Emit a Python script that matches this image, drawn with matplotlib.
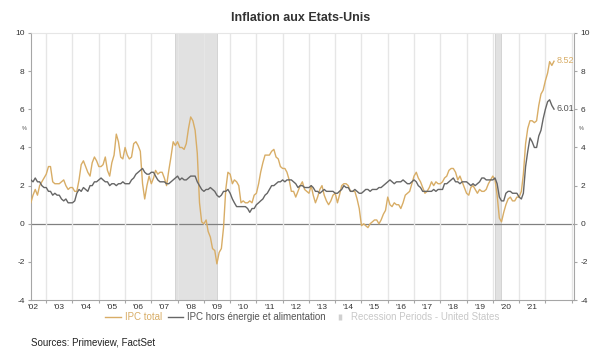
"""Inflation aux Etats-Unis: IPC total vs IPC hors energie et alimentation."""
import numpy as np
import pandas as pd
import matplotlib
matplotlib.use('Agg')
import matplotlib.pyplot as plt
import matplotlib.dates as mdates
from matplotlib.lines import Line2D

plt.rcParams['font.family'] = ['Liberation Sans', 'DejaVu Sans']

START = '2002-06-01'

# IPC total, glissement annuel (%), mensuel, juin 2002 -> mai 2022
cpi_total = [
    1.1, 1.5, 1.8, 1.5, 2.0, 2.2, 2.4,
    2.6, 3.0, 3.0, 2.2, 2.1, 2.1, 2.1, 2.2, 2.3, 2.0, 1.8, 1.9,
    1.9, 1.7, 1.7, 2.3, 3.1, 3.3, 3.0, 2.7, 2.5, 3.2, 3.5, 3.3,
    3.0, 3.0, 3.1, 3.5, 2.8, 2.5, 3.2, 3.6, 4.7, 4.3, 3.5, 3.4,
    4.0, 3.6, 3.4, 3.5, 4.2, 4.3, 4.1, 3.8, 2.1, 1.3, 2.0, 2.5,
    2.1, 2.4, 2.8, 2.6, 2.7, 2.7, 2.4, 2.0, 2.8, 3.5, 4.3, 4.1,
    4.3, 4.0, 4.0, 3.9, 4.2, 5.0, 5.6, 5.4, 4.9, 3.7, 1.1, 0.1,
    0.0, 0.2, -0.4, -0.7, -1.3, -1.4, -2.1, -1.5, -1.3, -0.2, 1.8, 2.7,
    2.6, 2.1, 2.3, 2.2, 2.0, 1.1, 1.2, 1.1, 1.1, 1.2, 1.1, 1.5,
    1.6, 2.1, 2.7, 3.2, 3.6, 3.6, 3.6, 3.8, 3.9, 3.5, 3.4, 3.0,
    2.9, 2.9, 2.7, 2.3, 1.7, 1.7, 1.4, 1.7, 2.0, 2.2, 1.8, 1.7,
    1.6, 2.0, 1.5, 1.1, 1.4, 1.8, 2.0, 1.5, 1.2, 1.0, 1.2, 1.5,
    1.6, 1.1, 1.5, 2.0, 2.1, 2.1, 2.0, 1.7, 1.7, 1.7, 1.3, 0.8,
    -0.1, 0.0, -0.1, -0.2, 0.0, 0.1, 0.2, 0.2, 0.0, 0.2, 0.5, 0.7,
    1.4, 1.0, 0.9, 1.1, 1.0, 1.0, 0.8, 1.1, 1.5, 1.6, 1.7, 2.1,
    2.5, 2.7, 2.4, 2.2, 1.9, 1.6, 1.7, 1.9, 2.2, 2.0, 2.2, 2.1,
    2.1, 2.2, 2.4, 2.5, 2.8, 2.9, 2.9, 2.7, 2.3, 2.5, 2.2, 1.9,
    1.6, 1.5, 1.9, 2.0, 1.8, 1.6, 1.8, 1.7, 1.7, 1.8, 2.1, 2.3,
    2.5, 2.3, 1.5, 0.3, 0.1, 0.6, 1.0, 1.3, 1.4, 1.2, 1.2, 1.4,
    1.4, 1.7, 2.6, 4.2, 5.0, 5.4, 5.4, 5.3, 5.4, 6.2, 6.8, 7.0,
    7.5, 7.9, 8.5, 8.3, 8.52,
]

# IPC hors energie et alimentation
cpi_core = [
    2.3, 2.2, 2.4, 2.2, 2.2, 2.0, 1.9,
    1.9, 1.7, 1.7, 1.5, 1.6, 1.5, 1.5, 1.3, 1.2, 1.3, 1.1, 1.1,
    1.1, 1.2, 1.6, 1.8, 1.7, 1.9, 1.8, 1.7, 2.0, 2.0, 2.2, 2.2,
    2.3, 2.4, 2.3, 2.2, 2.2, 2.0, 2.1, 2.1, 2.0, 2.1, 2.1, 2.2,
    2.1, 2.1, 2.1, 2.3, 2.4, 2.6, 2.7, 2.8, 2.9, 2.7, 2.6, 2.6,
    2.7, 2.7, 2.5, 2.3, 2.2, 2.2, 2.2, 2.1, 2.1, 2.2, 2.3, 2.4,
    2.5, 2.3, 2.4, 2.3, 2.3, 2.4, 2.5, 2.5, 2.5, 2.2, 2.0, 1.8,
    1.7, 1.8, 1.8, 1.9, 1.8, 1.7, 1.5, 1.4, 1.5, 1.7, 1.7, 1.8,
    1.6, 1.3, 1.1, 0.9, 0.9, 0.9, 0.9, 0.9, 0.8, 0.6, 0.8, 0.8,
    1.0, 1.1, 1.2, 1.3, 1.5, 1.6, 1.8, 2.0, 2.0, 2.1, 2.2, 2.2,
    2.3, 2.2, 2.3, 2.3, 2.3, 2.2, 2.1, 1.9, 2.0, 2.0, 1.9, 1.9,
    1.9, 2.0, 1.9, 1.7, 1.7, 1.6, 1.7, 1.8, 1.7, 1.7, 1.7, 1.7,
    1.6, 1.6, 1.7, 1.8, 2.0, 1.9, 1.9, 1.7, 1.7, 1.8, 1.7, 1.6,
    1.6, 1.7, 1.8, 1.8, 1.7, 1.8, 1.8, 1.8, 1.9, 1.9, 2.0, 2.1,
    2.2, 2.3, 2.2, 2.1, 2.2, 2.2, 2.2, 2.3, 2.2, 2.1, 2.1, 2.2,
    2.3, 2.2, 2.0, 1.9, 1.7, 1.7, 1.7, 1.7, 1.7, 1.8, 1.7, 1.8,
    1.8, 1.8, 2.1, 2.1, 2.2, 2.3, 2.4, 2.2, 2.2, 2.1, 2.2, 2.2,
    2.2, 2.1, 2.0, 2.1, 2.0, 2.1, 2.2, 2.4, 2.4, 2.3, 2.3, 2.3,
    2.3, 2.4, 2.1, 1.4, 1.2, 1.2, 1.6, 1.7, 1.7, 1.6, 1.6, 1.6,
    1.4, 1.3, 1.6, 3.0, 3.8, 4.5, 4.3, 4.0, 4.0, 4.6, 4.9, 5.5,
    6.0, 6.4, 6.5, 6.2, 6.01,
]

recessions = [('2007-12-01', '2009-06-30'), ('2020-02-01', '2020-04-30')]
years = list(range(2002, 2022))
y_ticks = [-4, -2, 0, 2, 4, 6, 8, 10]

GOLD = '#d8ad66'
GREY = '#666666'
SHADE = '#e1e1e1'

dates = pd.date_range(START, periods=len(cpi_total), freq='MS')

fig = plt.figure(figsize=(6.05, 3.51), dpi=100)
ax = fig.add_axes([0.051, 0.145, 0.898, 0.761])

for r0, r1 in recessions:
    ax.axvspan(pd.Timestamp(r0), pd.Timestamp(r1), facecolor=SHADE,
               edgecolor='#cfcfcf', lw=0.6, zorder=0)

ax.axhline(0, color='#808080', lw=0.9, zorder=1)
ax.plot(dates, cpi_total, color=GOLD, lw=1.0, zorder=3)
ax.plot(dates, cpi_core, color=GREY, lw=1.0, zorder=4)

ax.text(dates[-1] + pd.Timedelta(days=35), cpi_total[-1] + 0.05, f'{cpi_total[-1]:.2f}',
        color=GOLD, fontsize=6.5, va='center', ha='left')
ax.text(dates[-1] + pd.Timedelta(days=35), cpi_core[-1] + 0.05, f'{cpi_core[-1]:.2f}',
        color='#555555', fontsize=6.5, va='center', ha='left')

ax.set_xlim(pd.Timestamp('2002-06-01'), pd.Timestamp('2023-02-05'))
ax.set_ylim(-4, 10)
ax.set_yticks(y_ticks)
ax.set_yticklabels([str(v) for v in y_ticks])

ax.xaxis.set_major_locator(mdates.YearLocator(1, month=1, day=1))
ax.xaxis.set_major_formatter(plt.NullFormatter())
ax.set_xticks([pd.Timestamp(f'{y}-07-01') for y in years], minor=True)
ax.set_xticklabels([f"'{y % 100:02d}" for y in years], minor=True)
ax.grid(axis='x', which='major', color='#e6e6e6', lw=1.0, zorder=2)
ax.set_axisbelow(False)
for gl in ax.get_xgridlines():
    gl.set_zorder(2)

ax.tick_params(axis='x', which='minor', length=0, labelsize=6, colors='#333333', pad=3)
ax.tick_params(axis='x', which='major', length=2.5, color='#a6a6a6')
ax.tick_params(axis='y', labelsize=6, colors='#333333', length=2.5, left=True, right=True,
               labelleft=True, labelright=True, pad=2)
ax.tick_params(axis='y', color='#a6a6a6')

for side in ('left', 'right', 'bottom'):
    ax.spines[side].set_color('#a6a6a6')
    ax.spines[side].set_linewidth(0.8)
ax.spines['top'].set_color('#e6e6e6')

for xf, ha in ((-0.008, 'right'), (1.008, 'left')):
    ax.annotate('%', xy=(xf, 5), xycoords=('axes fraction', 'data'), fontsize=4,
                color='#555555', ha=ha, va='center')

fig.suptitle('Inflation aux Etats-Unis', x=0.497, y=0.965, fontsize=9, fontweight='bold',
             color='#333333')

handles = [
    Line2D([], [], color=GOLD, lw=1.0),
    Line2D([], [], color=GREY, lw=1.0),
    Line2D([], [], color='#d0d0d0', linestyle='none', marker='|', markersize=5,
           markeredgewidth=2.5),
]
labels = ['IPC total', 'IPC hors énergie et alimentation', 'Recession Periods - United States']
leg = fig.legend(handles, labels, loc='center', bbox_to_anchor=(0.5, 0.097), ncol=3,
                 frameon=False, fontsize=7, handlelength=1.6, handletextpad=0.4,
                 columnspacing=0.6)
for txt, col in zip(leg.get_texts(), [GOLD, '#555555', '#c8c8c8']):
    txt.set_color(col)

fig.text(0.052, 0.023, 'Sources: Primeview, FactSet', fontsize=7, color='#222222',
         ha='left', va='center')

fig.savefig('out.png', dpi=100)
